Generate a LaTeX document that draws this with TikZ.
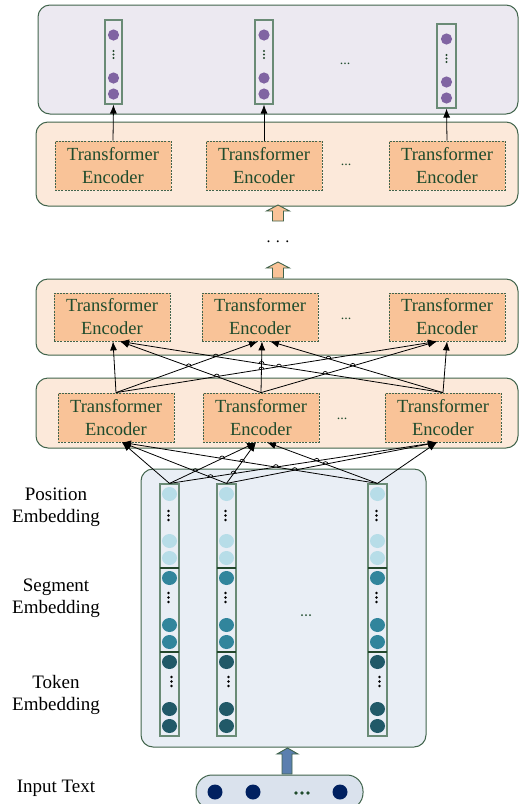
\documentclass[tikz,border=0pt]{standalone}
\usepackage{fontspec}
\setmainfont{Liberation Serif}
\usetikzlibrary{calc,arrows.meta,intersections}
\definecolor{bordc}{HTML}{41644C}
\definecolor{vecb}{HTML}{6A8B76}
\definecolor{divc}{HTML}{23472C}
\definecolor{enctext}{HTML}{1F4B2C}
\definecolor{encfill}{HTML}{F9C398}
\definecolor{rowfill}{HTML}{FCE9DA}
\definecolor{topfill}{HTML}{ECE9F1}
\definecolor{embfill}{HTML}{E9EEF5}
\definecolor{pillfill}{HTML}{DAE2ED}
\definecolor{purp}{HTML}{8064A2}
\definecolor{lblue}{HTML}{B7DDE8}
\definecolor{teal}{HTML}{31859C}
\definecolor{dteal}{HTML}{215968}
\definecolor{navy}{HTML}{002060}
\definecolor{steel}{HTML}{5B7FAF}
\newcommand\hopmk[3]{\path[name intersections={of=#1 and #2, by=#3}];
  \draw[hop] (#3) ++(-2.5,0) arc[start angle=180, end angle=360, radius=2.5];}
\begin{document}
\begin{tikzpicture}[x=1pt,y=-1pt,
  container/.style={draw=bordc, line width=1pt, rounded corners=12pt, inner sep=0pt},
  enc/.style={draw=bordc, dash pattern=on 2pt off 1.2pt, line width=0.8pt, fill=encfill, text=enctext,
     minimum width=116pt, minimum height=49pt, align=center, inner sep=0pt,
     font=\fontsize{18.5}{23}\selectfont},
  vec/.style={draw=vecb, line width=1.2pt, inner sep=0pt},
  arr/.style={-{Latex[length=9pt,width=7pt]}, line width=0.8pt},
  hop/.style={line width=0.7pt},
  lbl/.style={align=center, font=\fontsize{19}{22}\selectfont},
  dotsty/.style={font=\fontsize{14}{14}\selectfont, text=enctext},
  blockarr/.style={draw=bordc, line width=0.9pt, line join=miter}
]
\useasboundingbox (0,0) rectangle (520,804);

% containers
\node[container, fill=topfill, minimum width=480pt, minimum height=109pt] (top) at (278,59.5) {};
\node[container, fill=rowfill, minimum width=482pt, minimum height=84pt] (rowT) at (277,164) {};
\node[container, fill=rowfill, minimum width=482pt, minimum height=76pt] (rowM) at (277,317) {};
\node[container, fill=rowfill, minimum width=482pt, minimum height=70pt] (rowL) at (277,413) {};
\node[container, fill=embfill, minimum width=285pt, minimum height=278pt] (emb) at (283.5,608) {};
\node[draw=bordc, line width=1pt, fill=pillfill, rounded corners=16pt, minimum width=167pt, minimum height=34pt, inner sep=0pt] (pill) at (279.5,792) {};

% output vectors
\node[vec, fill=topfill, minimum width=17pt, minimum height=84pt] (O1) at (113.5,62) {};
\node[vec, fill=topfill, minimum width=18pt, minimum height=84pt] (O2) at (264,62) {};
\node[vec, fill=topfill, minimum width=19pt, minimum height=84pt] (O3) at (446.5,66) {};
\foreach \cx/\dy in {113.5/0,264/0,446.5/4}{
  \foreach \yy in {35,78,94}{\fill[purp] (\cx,\yy+\dy) circle (5.6);}
  \foreach \yy in {51,54.5,58}{\fill[divc] (\cx,\yy+\dy) circle (1.1);}
}
\node[dotsty] (odots) at (345,64) {...};

% encoders
\node[enc] (E1) at (113,165.5) {Transformer\\Encoder};
\node[enc] (E2) at (264,165.5) {Transformer\\Encoder};
\node[enc] (E3) at (447,165.5) {Transformer\\Encoder};
\node[dotsty] (edotsT) at (346,165) {...};
\node[enc, minimum height=48pt] (M1) at (112,317) {Transformer\\Encoder};
\node[enc, minimum height=48pt] (M2) at (260,317) {Transformer\\Encoder};
\node[enc, minimum height=48pt] (M3) at (447,317) {Transformer\\Encoder};
\node[dotsty] (edotsM) at (346,319) {...};
\node[enc] (L1) at (116,417.5) {Transformer\\Encoder};
\node[enc] (L2) at (261,417.5) {Transformer\\Encoder};
\node[enc] (L3) at (443,417.5) {Transformer\\Encoder};
\node[dotsty] (edotsL) at (342,419) {...};

% top arrows
\draw[arr] (E1.north) -- (O1.south);
\draw[arr] (E2.north) -- (O2.south);
\draw[arr] (E3.north) -- (O3.south);

% block arrows between rows
\draw[blockarr, fill=encfill] (278,205) -- (289.5,211) -- (283.5,211) -- (283.5,221) -- (272.5,221) -- (272.5,211) -- (266.5,211) -- cycle;
\node[font=\fontsize{16}{16}\selectfont] (vdots) at (278,242) {.\,\,.\,\,.};
\draw[blockarr, fill=encfill] (278,262) -- (289.5,268) -- (283.5,268) -- (283.5,278) -- (272.5,278) -- (272.5,268) -- (266.5,268) -- cycle;

% connections lower -> middle
\draw[arr, name path=la] (L1.north) -- ($(M1.south)+(1,0)$);
\draw[arr, name path=lb] (L1.north) -- ($(M2.south)+(-2,0)$);
\draw[arr, name path=lc] (L1.north) -- ($(M3.south)+(-10,0)$);
\draw[arr, name path=ld] (L2.north) -- ($(M1.south)+(8,0)$);
\draw[arr, name path=le] (L2.north) -- ($(M2.south)+(2,0)$);
\draw[arr, name path=lf] (L2.north) -- ($(M3.south)+(-10,0)$);
\draw[arr, name path=lg] (L3.north) -- ($(M1.south)+(8,0)$);
\draw[arr, name path=lh] (L3.north) -- ($(M2.south)+(10,0)$);
\draw[arr, name path=li] (L3.north) -- ($(M3.south)+(0,0)$);
\hopmk{lb}{ld}{hu1}
\hopmk{lb}{lg}{hu2}
\hopmk{lc}{ld}{hu3}
\hopmk{lc}{le}{hu4}
\hopmk{lc}{lg}{hu5}
\hopmk{lc}{lh}{hu6}
\hopmk{le}{lg}{hu7}
\hopmk{lf}{lg}{hu8}
\hopmk{lf}{lh}{hu9}

% embedding columns
\node[vec, fill=embfill, minimum width=19pt, minimum height=252pt] (C1) at (169.5,610) {};
\node[vec, fill=embfill, minimum width=19pt, minimum height=252pt] (C2) at (226.5,610) {};
\node[vec, fill=embfill, minimum width=19pt, minimum height=252pt] (C3) at (377.5,610) {};
\foreach \cx in {169.5,226.5,377.5}{
  \foreach \yy in {494,541,558}{\fill[lblue] (\cx,\yy) ellipse (7.5 and 7);}
  \foreach \yy in {578,625,642}{\fill[teal] (\cx,\yy) ellipse (7.5 and 7);}
  \foreach \yy in {662,709,726}{\fill[dteal] (\cx,\yy) ellipse (7.5 and 7);}
  \foreach \yy in {511,515.5,520}{\fill[black] (\cx-1,\yy) circle (1.4);}
  \foreach \yy in {593,597.5,602}{\fill[black] (\cx-1,\yy) circle (1.4);}
  \foreach \yy in {677,681.5,686}{\fill[black] (\cx+2,\yy) circle (1.4);}
  \draw[divc, line width=1.2pt] (\cx-9.5,568) -- (\cx+9.5,568);
  \draw[divc, line width=1.2pt] (\cx-9.5,652) -- (\cx+9.5,652);
}
\foreach \xx in {302,306,310}{\fill[enctext] (\xx,615) circle (1);}

% connections embedding -> lower
\draw[arr, name path=ea] (C1.north) -- ($(L1.south)+(6,0)$);
\draw[arr, name path=eb] (C1.north) -- ($(L2.south)+(-5,0)$);
\draw[arr, name path=ec] (C1.north) -- ($(L3.south)+(-6,0)$);
\draw[arr, name path=ed] (C2.north) -- ($(L1.south)+(6,0)$);
\draw[arr, name path=ee] (C2.north) -- ($(L2.south)+(-5,0)$);
\draw[arr, name path=ef] (C2.north) -- ($(L3.south)+(-6,0)$);
\draw[arr, name path=eg] (C3.north) -- ($(L1.south)+(6,0)$);
\draw[arr, name path=eh] (C3.north) -- ($(L2.south)+(6,0)$);
\draw[arr, name path=ei] (C3.north) -- ($(L3.south)+(-6,0)$);
\hopmk{eb}{ed}{hv1}
\hopmk{eb}{eg}{hv2}
\hopmk{ec}{ed}{hv3}
\hopmk{ec}{ee}{hv4}
\hopmk{ec}{eg}{hv5}
\hopmk{ec}{eh}{hv6}
\hopmk{ee}{eg}{hv7}
\hopmk{ef}{eg}{hv8}
\hopmk{ef}{eh}{hv9}

% input arrow
\draw[blockarr, fill=steel] (287.5,748) -- (298,754) -- (292,754) -- (292,774) -- (282,774) -- (282,754) -- (277,754) -- cycle;

% input tokens
\foreach \xx in {215,253,340}{\fill[navy] (\xx,792) circle (7.5);}
\foreach \xx in {296,302,308}{\fill[enctext] (\xx,793) circle (1.8);}

% labels
\node[lbl] (lpos) at (56,507) {Position\\Embedding};
\node[lbl] (lseg) at (56,598.5) {Segment\\Embedding};
\node[lbl] (ltok) at (56,695) {Token\\Embedding};
\node[lbl] (lin) at (56,788) {Input Text};
\end{tikzpicture}
\end{document}
